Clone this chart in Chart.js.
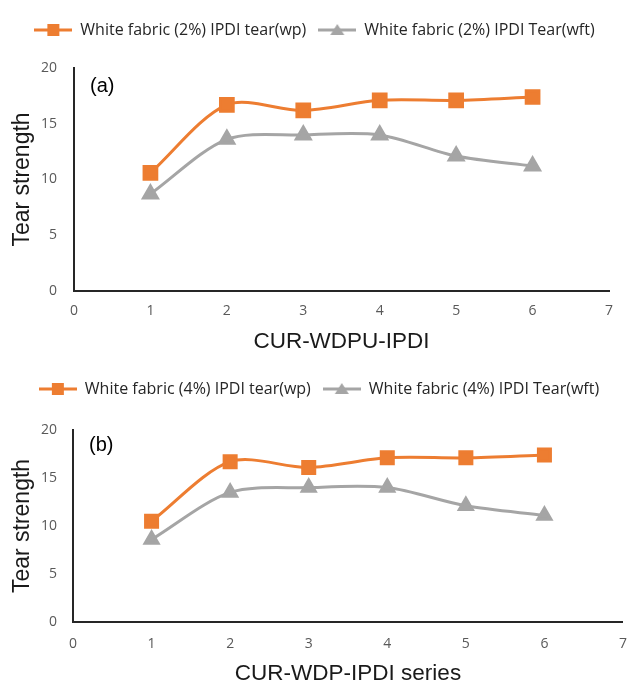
<!DOCTYPE html>
<html>
<head>
<meta charset="utf-8">
<script src="https://cdn.jsdelivr.net/npm/chart.js@4.4.1/dist/chart.umd.min.js"></script>
<style>
  html, body { margin: 0; padding: 0; background: #fff; overflow: hidden; }
  .panel { position: absolute; left: 0; width: 630px; }
  #panelA { top: 0; height: 355px; }
  #panelB { top: 355px; height: 332px; }
</style>
</head>
<body>
<div class="panel" id="panelA"><canvas id="chartA"></canvas></div>
<div class="panel" id="panelB"><canvas id="chartB"></canvas></div>
<script>
// x positions of the samples (series number)
const seriesNo = [1, 2, 3, 4, 5, 6];
const xTicks = [0, 1, 2, 3, 4, 5, 6, 7];
const yTicks = [0, 5, 10, 15, 20];

// panel (a) - 2% IPDI
const wpA = [10.6, 16.7, 16.2, 17.1, 17.1, 17.4];
const wftA = [8.7, 13.6, 14.0, 14.0, 12.1, 11.2];

// panel (b) - 4% IPDI
const wpB = [10.5, 16.7, 16.1, 17.1, 17.1, 17.4];
const wftB = [8.6, 13.5, 14.0, 14.0, 12.1, 11.1];

const ORANGE = '#ED7D31';
const GREY = '#A5A5A5';

// legend sample: short line with the marker in the middle
function legendSwatch(color, shape) {
    const c = document.createElement('canvas');
    c.width = 38; c.height = 14;
    const g = c.getContext('2d');
    g.strokeStyle = color;
    g.lineWidth = 3;
    g.beginPath();
    g.moveTo(0, 7); g.lineTo(38, 7);
    g.stroke();
    g.fillStyle = color;
    if (shape === 'rect') {
        g.fillRect(13, 1, 12, 12);
    } else {
        g.beginPath();
        g.moveTo(19, 1); g.lineTo(26, 12); g.lineTo(12, 12);
        g.closePath(); g.fill();
    }
    return c;
}

// "(a)" / "(b)" tag inside the plot area
const panelTag = {
    id: 'panelTag',
    afterDraw(chart, args, opts) {
        const ctx = chart.ctx;
        ctx.save();
        ctx.font = '20px "Liberation Sans", Arial, sans-serif';
        ctx.fillStyle = '#000';
        ctx.textBaseline = 'middle';
        ctx.fillText(opts.text, chart.chartArea.left + 16, chart.chartArea.top + opts.dy);
        ctx.restore();
    }
};

function makeChart(id, wp, wft, names, xTitle, tag, cfg) {
    const ctx = document.getElementById(id);
    const chart = new Chart(ctx, {
        type: 'line',
        data: {
            datasets: [
                {
                    label: names[0],
                    data: seriesNo.map((x, i) => ({ x: x, y: wp[i] })),
                    borderColor: ORANGE,
                    backgroundColor: ORANGE,
                    borderWidth: 3,
                    pointStyle: 'rect',
                    pointRadius: cfg.rectR,
                    tension: 0.3
                },
                {
                    label: names[1],
                    data: seriesNo.map((x, i) => ({ x: x, y: wft[i] })),
                    borderColor: GREY,
                    backgroundColor: GREY,
                    borderWidth: 3,
                    pointStyle: 'triangle',
                    pointRadius: cfg.triR,
                    tension: 0.3
                }
            ]
        },
        options: {
            responsive: true,
            maintainAspectRatio: false,
            animation: false,
            layout: { padding: cfg.padding },
            plugins: {
                tooltip: { enabled: false },
                panelTag: { text: tag, dy: cfg.tagDy },
                legend: {
                    position: 'top',
                    labels: {
                        usePointStyle: true,
                        pointStyleWidth: 38,
                        boxHeight: 14,
                        padding: 12,
                        color: '#262626',
                        font: { family: '"Open Sans", sans-serif', size: 16 },
                        generateLabels(chart) {
                            return chart.data.datasets.map((ds, i) => ({
                                text: ds.label,
                                pointStyle: legendSwatch(ds.borderColor, i === 0 ? 'rect' : 'tri'),
                                fillStyle: ds.borderColor,
                                strokeStyle: ds.borderColor,
                                lineWidth: 0,
                                fontColor: '#262626',
                                datasetIndex: i
                            }));
                        }
                    }
                }
            },
            scales: {
                x: {
                    type: 'linear',
                    min: 0,
                    max: 7,
                    afterBuildTicks(scale) { scale.ticks = xTicks.map(v => ({ value: v })); },
                    afterFit(scale) { scale.height = cfg.xHeight; },
                    grid: { display: false, drawTicks: false },
                    border: { display: true, color: '#262626', width: 2 },
                    ticks: {
                        padding: cfg.xTickPad,
                        color: '#595959',
                        font: { family: '"Open Sans", sans-serif', size: 14 }
                    },
                    title: {
                        display: true,
                        text: xTitle,
                        color: '#1a1a1a',
                        padding: { top: 4, bottom: 0 },
                        font: { family: '"Liberation Sans", Arial, sans-serif', size: 22.5 }
                    }
                },
                y: {
                    min: 0,
                    max: 20,
                    afterBuildTicks(scale) { scale.ticks = yTicks.map(v => ({ value: v })); },
                    afterFit(scale) { scale.width = cfg.yWidth; },
                    grid: { display: false, drawTicks: false },
                    border: { display: true, color: '#262626', width: 2 },
                    ticks: {
                        padding: cfg.yTickPad,
                        color: '#595959',
                        font: { family: '"Open Sans", sans-serif', size: 14 }
                    },
                    title: {
                        display: true,
                        text: 'Tear strength',
                        color: '#1a1a1a',
                        padding: { top: 1, bottom: 0 },
                        font: { family: '"Liberation Sans", Arial, sans-serif', size: 23 }
                    }
                }
            }
        },
        plugins: [panelTag]
    });

    // leave a gap under the legend so the plot starts where it does in the figure
    const legend = chart.legend;
    const extra = cfg.plotTop - chart.chartArea.top;
    const fit = legend.fit;
    legend.fit = function () {
        fit.call(this);
        this.height += extra;
    };
    // nudge the legend row sideways to sit where the figure has it
    const draw = legend.draw;
    legend.draw = function () {
        this.ctx.save();
        this.ctx.translate(cfg.legendShift, 0);
        draw.call(this);
        this.ctx.restore();
    };
    chart.update();

    // stretch the panel if the plot ends short of the figure's right edge
    const dx = Math.round(cfg.plotRight - chart.chartArea.right);
    if (dx !== 0) {
        const panel = ctx.parentNode;
        panel.style.width = (panel.clientWidth + dx) + 'px';
        chart.resize();
    }
    return chart;
}

makeChart('chartA', wpA, wftA,
    ['White fabric (2%) IPDI tear(wp)', 'White fabric (2%) IPDI Tear(wft)'],
    'CUR-WDPU-IPDI', '(a)',
    { padding: { top: 10, right: 21, bottom: 0, left: 8 }, plotTop: 68, plotRight: 609,
      xHeight: 64, xTickPad: 12, yWidth: 66, yTickPad: 17,
      rectR: 9, triR: 8, tagDy: 18, legendShift: 6 });

makeChart('chartB', wpB, wftB,
    ['White fabric (4%) IPDI tear(wp)', 'White fabric (4%) IPDI Tear(wft)'],
    'CUR-WDP-IPDI series', '(b)',
    { padding: { top: 14, right: 7, bottom: 0, left: 8 }, plotTop: 75, plotRight: 623,
      xHeight: 65, xTickPad: 14, yWidth: 65, yTickPad: 16,
      rectR: 8.5, triR: 7.5, tagDy: 15, legendShift: -2 });
</script>
</body>
</html>
